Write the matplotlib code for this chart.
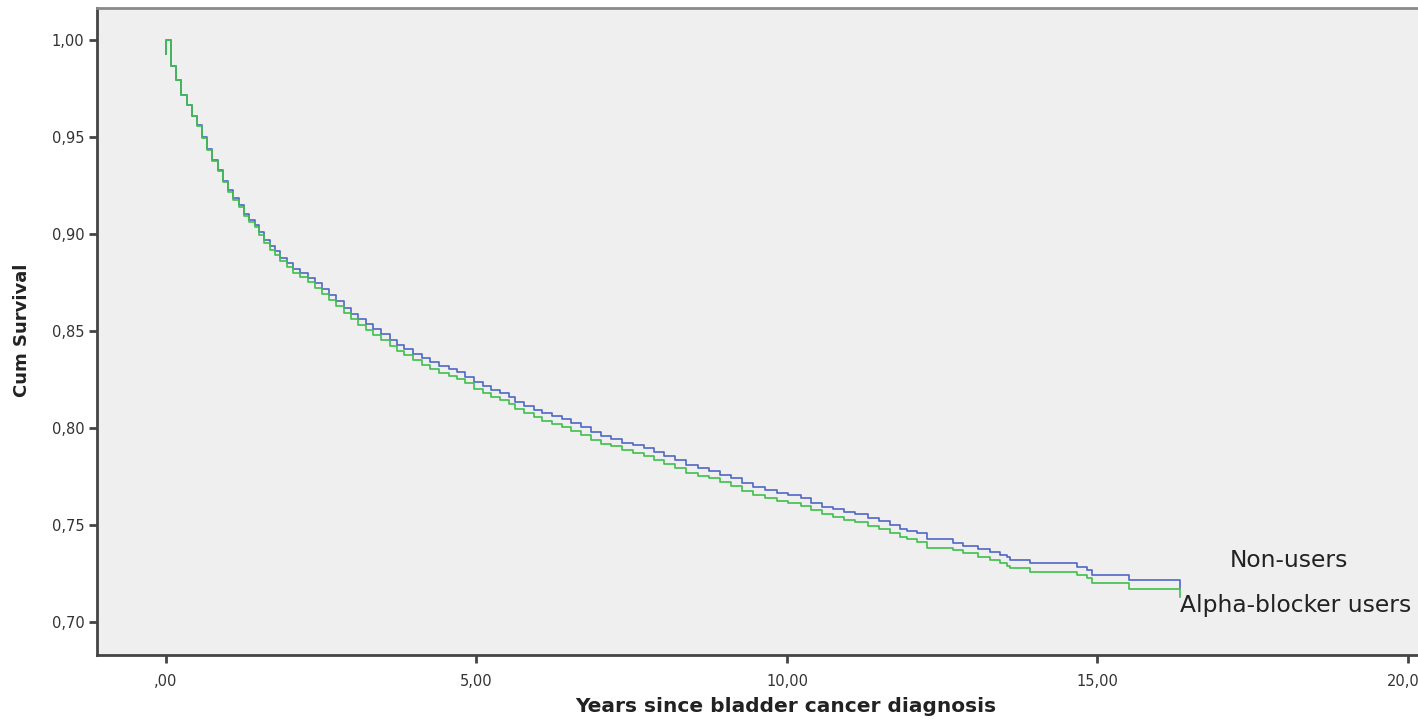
import numpy as np
import matplotlib
matplotlib.use("Agg")
import matplotlib.pyplot as plt
from matplotlib.ticker import FuncFormatter

# Kaplan-Meier step points (years, cumulative survival)
years = [0.0, 0.0, 0.076, 0.156, 0.237, 0.333, 0.424, 0.504, 0.585, 0.665,
         0.746, 0.842, 0.923, 1.003, 1.084, 1.176, 1.256, 1.341, 1.433, 1.502,
         1.578, 1.675, 1.755, 1.836, 1.944,
         2.05, 2.16, 2.28, 2.40, 2.52, 2.62, 2.74, 2.86, 2.98, 3.10,
         3.22, 3.34, 3.46, 3.60, 3.72, 3.84, 3.98, 4.12, 4.26, 4.40,
         4.55, 4.68, 4.82, 4.96, 5.10, 5.24, 5.38, 5.52, 5.62, 5.76,
         5.92, 6.06, 6.22, 6.38, 6.52, 6.68, 6.84, 7.00, 7.16, 7.34,
         7.52, 7.70, 7.86, 8.02, 8.20, 8.38, 8.56, 8.74, 8.92, 9.10,
         9.28, 9.46, 9.64, 9.84, 10.02, 10.22, 10.38, 10.56, 10.74, 10.92,
         11.10, 11.30, 11.48, 11.66, 11.82,
         11.93, 12.09, 12.25, 12.68, 12.84, 13.08, 13.27, 13.43, 13.54, 13.59,
         13.92, 14.67, 14.83, 14.91, 15.50, 16.33]

non_users = [0.993, 1.0, 0.9866, 0.9794, 0.9718, 0.9666, 0.9608, 0.9563, 0.950, 0.944,
             0.9383, 0.933, 0.9275, 0.9228, 0.9185, 0.915, 0.9103, 0.9074, 0.9048, 0.901,
             0.897, 0.8936, 0.891, 0.8876, 0.885,
             0.882, 0.880, 0.8775, 0.8745, 0.8715, 0.8685, 0.8655, 0.862, 0.859, 0.856,
             0.8535, 0.851, 0.8485, 0.8455, 0.843, 0.8405, 0.838, 0.836, 0.834, 0.832,
             0.8305, 0.829, 0.8265, 0.8235, 0.8215, 0.8195, 0.818, 0.816, 0.8135, 0.8115,
             0.8095, 0.8075, 0.806, 0.8045, 0.8025, 0.8005, 0.798, 0.796, 0.7945, 0.7925,
             0.791, 0.7895, 0.7875, 0.7855, 0.7835, 0.781, 0.7795, 0.778, 0.776, 0.774,
             0.7715, 0.7695, 0.768, 0.7665, 0.7655, 0.764, 0.7615, 0.7595, 0.758, 0.7565,
             0.7555, 0.7535, 0.752, 0.750, 0.748,
             0.7469, 0.7457, 0.7426, 0.7409, 0.7392, 0.7376, 0.7359, 0.7345, 0.7333, 0.732,
             0.7302, 0.7285, 0.7268, 0.7242, 0.7216, 0.7174]

alpha_users = [0.993, 1.0, 0.9866, 0.9794, 0.9718, 0.9666, 0.9608, 0.9558, 0.9495, 0.9435,
               0.9378, 0.9325, 0.927, 0.9218, 0.9175, 0.914, 0.9093, 0.9062, 0.9035, 0.8995,
               0.8955, 0.892, 0.8893, 0.8859, 0.8832,
               0.8798, 0.8778, 0.8752, 0.8722, 0.8692, 0.8661, 0.863, 0.8594, 0.8563, 0.8532,
               0.8505, 0.848, 0.8455, 0.8424, 0.8399, 0.8374, 0.8349, 0.8327, 0.8306, 0.8286,
               0.827, 0.8255, 0.823, 0.820, 0.818, 0.816, 0.8145, 0.8124, 0.8098, 0.8078,
               0.8057, 0.8036, 0.802, 0.8005, 0.7985, 0.7965, 0.794, 0.792, 0.7905, 0.7885,
               0.787, 0.7855, 0.7835, 0.7815, 0.7795, 0.777, 0.7755, 0.774, 0.772, 0.770,
               0.7675, 0.7655, 0.764, 0.7625, 0.7615, 0.760, 0.7575, 0.7555, 0.754, 0.7525,
               0.7513, 0.7493, 0.7478, 0.7458, 0.7437,
               0.7426, 0.7414, 0.7383, 0.7371, 0.7354, 0.7337, 0.732, 0.7306, 0.7289, 0.7277,
               0.7259, 0.7242, 0.7225, 0.720, 0.717, 0.713]

xticks = [0, 5, 10, 15, 20]
yticks = [0.70, 0.75, 0.80, 0.85, 0.90, 0.95, 1.00]

W, H = 1418, 722
fig = plt.figure(figsize=(W / 100, H / 100), dpi=100)
# axes box in pixels: left 97, top 8, bottom 655, runs past the right edge
ax = fig.add_axes([97 / W, 1 - 655 / H, (1430 - 97) / W, (655 - 8) / H])
ax.set_facecolor("#efefef")

ax.plot(years, non_users, drawstyle="steps-post", color="#4f67c6", lw=1.2)
ax.plot(years, alpha_users, drawstyle="steps-post", color="#3fbf4b", lw=1.2)

ax.set_xlim(-1.11, (1430 - 166) / 62.1)
ax.set_ylim(0.683, 1.0165)

ax.set_xticks(xticks)
ax.set_yticks(yticks)
ax.xaxis.set_major_formatter(FuncFormatter(lambda v, p: ",00" if v == 0 else "{:.2f}".format(v).replace(".", ",")))
ax.yaxis.set_major_formatter(FuncFormatter(lambda v, p: "{:.2f}".format(v).replace(".", ",")))
ax.tick_params(axis="both", direction="out", length=6, width=2, color="#444444",
               labelsize=10.5, labelcolor="#333333", pad=3)
ax.tick_params(axis="x", pad=8)

for s in ["left", "bottom"]:
    ax.spines[s].set_color("#444444")
    ax.spines[s].set_linewidth(2)
ax.spines["top"].set_color("#8a8a8a")
ax.spines["top"].set_linewidth(2)
ax.spines["right"].set_visible(False)

ax.text(17.13, 0.7315, "Non-users", fontsize=16.8, color="#222222", va="center", ha="left")
ax.text(16.33, 0.7085, "Alpha-blocker users", fontsize=16.8, color="#222222", va="center", ha="left")

fig.text(786 / W, 1 - 707 / H, "Years since bladder cancer diagnosis", fontsize=14.5,
         fontweight="bold", color="#222222", ha="center", va="center")
fig.text(22 / W, 1 - 330 / H, "Cum Survival", fontsize=13, fontweight="bold",
         color="#222222", ha="center", va="center", rotation=90)

fig.savefig("out.png", dpi=100)
